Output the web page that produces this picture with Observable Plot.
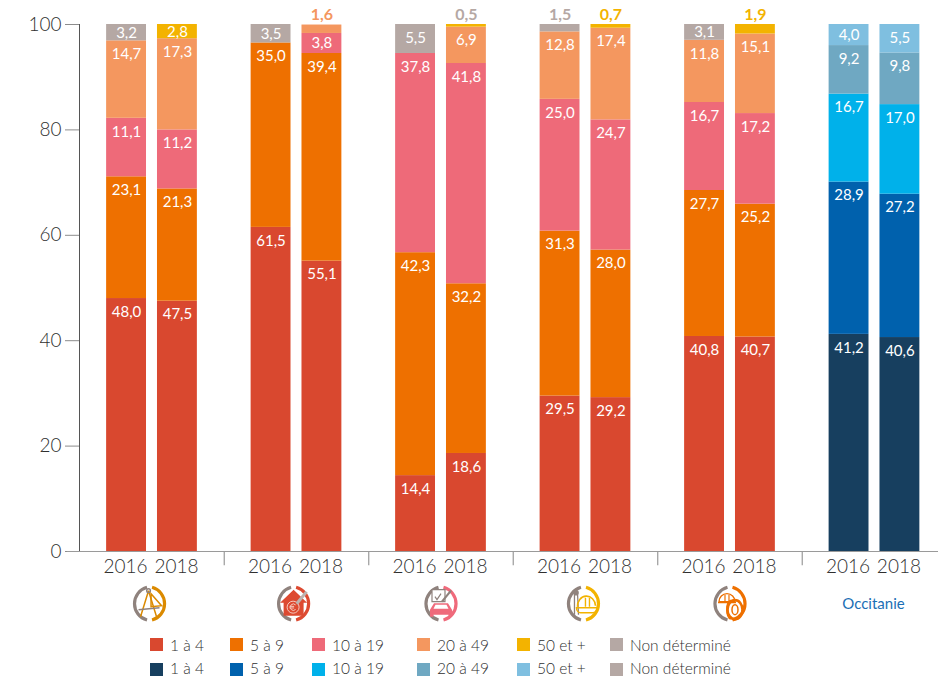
<!DOCTYPE html>
<html lang="fr">
<head>
<meta charset="utf-8">
<script src="https://cdn.jsdelivr.net/npm/d3@7"></script>
<script src="https://cdn.jsdelivr.net/npm/@observablehq/plot@0.6"></script>
<style>
  html,body{margin:0;padding:0;background:#fff;}
  #page{position:relative;width:938px;height:677px;overflow:hidden;font-family:Lato,sans-serif;}
  #chart svg{display:block;}
  .lg{position:absolute;display:flex;align-items:center;height:13px;font-size:15.5px;font-weight:300;color:#2f2f2f;white-space:nowrap;}
  .lg i{display:inline-block;width:13px;height:13px;margin-right:7px;flex:none;}
  .lg span{position:relative;}
  .lg.second span{top:-2px;}
</style>
</head>
<body>
<div id="page"><div id="chart"></div><div id="legend"></div></div>
<script>
// Two bars per group, in reading order: group 1 2016, group 1 2018, group 2 2016 ...
const years = [2016, 2018];
const size1to4   = [48.0, 47.5, 61.5, 55.1, 14.4, 18.6, 29.5, 29.2, 40.8, 40.7, 41.2, 40.6];
const size5to9   = [23.1, 21.3, 35.0, 39.4, 42.3, 32.2, 31.3, 28.0, 27.7, 25.2, 28.9, 27.2];
const size10to19 = [11.1, 11.2, 0, 3.8, 37.8, 41.8, 25.0, 24.7, 16.7, 17.2, 16.7, 17.0];
const size20to49 = [14.7, 17.3, 0, 1.6, 0, 6.9, 12.8, 17.4, 11.8, 15.1, 9.2, 9.8];
const size50plus = [0, 2.8, 0, 0, 0, 0.5, 0, 0.7, 0, 1.9, 4.0, 5.5];
const sizeNd     = [3.2, 0, 3.5, 0, 5.5, 0, 1.5, 0, 3.1, 0, 0, 0];

const seriesValues = [size1to4, size5to9, size10to19, size20to49, size50plus, sizeNd];
const seriesLabels = ["1 à 4", "5 à 9", "10 à 19", "20 à 49", "50 et +", "Non déterminé"];
const sectorColors = ["#D9482F", "#EE7000", "#EE6A79", "#F4975F", "#F3B300", "#B5A8A4"];
const regionColors = ["#173F5F", "#0061AD", "#00B1EA", "#6FA8C2", "#7FBFE0", "#B5A8A4"];
const yTicks = [0, 20, 40, 60, 80, 100];
const regionLabel = "Occitanie";
const greyLabels = ["0,5"]; // printed in grey in the source although the segment is yellow

// layout constants
const barOffset = 0.176, barHalf = 0.138;

const rows = [];
seriesValues[0].forEach((_, b) => {
  const group = Math.floor(b / 2), yearIdx = b % 2;
  const cx = group + (yearIdx ? barOffset : -barOffset);
  let top = 0;
  seriesValues.forEach((vals, s) => {
    const v = vals[b];
    if (!v) return;
    const y1 = top, y2 = top + v;
    top = y2;
    rows.push({
      cx, x1: cx - barHalf, x2: cx + barHalf, y1, y2: Math.min(y2, 100), v,
      color: (group === 5 ? regionColors : sectorColors)[s],
      text: v.toFixed(1).replace(".", ",")
    });
  });
});
const inside = rows.filter(d => d.v >= 2);
const outside = rows.filter(d => d.v < 2);
const yearRows = seriesValues[0].map((_, b) => ({
  cx: Math.floor(b / 2) + (b % 2 ? barOffset : -barOffset),
  label: String(years[b % 2])
}));

function iconUri(color, glyph) {
  const g = "#8f827d";
  const svg = `<svg xmlns="http://www.w3.org/2000/svg" viewBox="0 0 48 48" width="48" height="48">
  <path d="M21.5 7.6A17 17 0 0 0 21.5 40.4" fill="none" stroke="${g}" stroke-width="3.2"/>
  <path d="M26.5 7.6A17 17 0 0 1 26.5 40.4" fill="none" stroke="${color}" stroke-width="3.2"/>
  ${glyph(color, g)}</svg>`;
  return "data:image/svg+xml;charset=utf-8," + encodeURIComponent(svg);
}
const glyphs = [
  (c, g) => `<g fill="none" stroke-width="1.5"><path d="M23 11L15 37M23 11L31 37" stroke="${c}"/><path d="M13 30L34 28" stroke="${g}"/><circle cx="23" cy="11" r="1.8" stroke="${g}"/><path d="M25.5 14L36 26L25.5 27Z" stroke="${c}"/></g>`,
  (c, g) => `<path d="M24 10L10.5 23L14 23L14 36L34 36L34 23L37.5 23Z" fill="${c}"/><circle cx="23.5" cy="27.5" r="6" fill="none" stroke="#f6c9bd" stroke-width="1"/><path d="M26 25.2A3.2 3.2 0 1 0 26 29.8M20 26.7H24.5M20 28.3H24.5" fill="none" stroke="#f6c9bd" stroke-width="1"/><path d="M27 24L37 12" stroke="#bdb3af" stroke-width="3"/>`,
  (c, g) => `<path d="M15 10H28V22H15Z" fill="#fff" stroke="${g}" stroke-width="1.2"/><path d="M18 17L20 20L24 14" fill="none" stroke="${g}" stroke-width="1.2"/><path d="M25 22L34 11" stroke="${g}" stroke-width="2.2"/><path d="M13 30L17 23.5H31L35 30V37H31.5V35H16.5V37H13Z" fill="${c}"/><path d="M18.5 25H29.5L31.5 29H16.5Z" fill="#fff"/>`,
  (c, g) => `<path d="M15 12V35M18 12L19 35" stroke="${g}" stroke-width="1.3"/><circle cx="16.5" cy="13" r="2.8" fill="${g}"/><path d="M20 31A9 10 0 0 1 38 30" fill="none" stroke="${c}" stroke-width="1.6" transform="translate(-2 -4)"/><path d="M17 28H38C38 31 36 33 33 33H21C19 33 17 31 17 28Z" fill="none" stroke="${c}" stroke-width="1.5"/><path d="M26 18V27M30 18V27" stroke="${c}" stroke-width="1.4"/>`,
  (c, g) => `<path d="M13 22A8 8 0 0 1 29 22Z" fill="none" stroke="${c}" stroke-width="1.4"/><path d="M12 23H30M19 15V22M23 15V22" stroke="${c}" stroke-width="1.2"/><ellipse cx="29" cy="30" rx="7.5" ry="9.5" fill="none" stroke="${c}" stroke-width="2.6"/><path d="M25 21C20 23 20 37 25 39" fill="none" stroke="${c}" stroke-width="2.4"/><ellipse cx="29" cy="30" rx="3" ry="5" fill="none" stroke="${c}" stroke-width="1.5"/>`
];
const iconColors = ["#DB8A00", "#DD4A31", "#EF6A7B", "#F3B300", "#EE7000"];
const iconGroupPos = [-0.017, 0.98, 2, 2.986, 4];
const icons = iconColors.map((c, i) => ({pos: iconGroupPos[i], src: iconUri(c, glyphs[i])}));

const fontFamily = "Lato, sans-serif";
const chart = Plot.plot({
  width: 938,
  height: 625,
  marginTop: 24,
  marginBottom: 74,
  marginLeft: 79,
  marginRight: 0,
  style: {fontFamily, background: "#fff"},
  x: {domain: [-0.5017, 5.443], axis: null},
  y: {domain: [0, 100], axis: null},
  marks: [
    Plot.rect(rows, {x1: "x1", x2: "x2", y1: "y1", y2: "y2", fill: d => d.color}),
    Plot.axisY({ticks: yTicks, tickSize: 14, tickPadding: 4, stroke: "#8c8c8c", fill: "#2f2f2f", fontSize: 19, fontWeight: 300, label: null}),
    Plot.ruleX([-0.5017], {y1: 0, y2: 100, stroke: "#555", strokeWidth: 1}),
    Plot.ruleY([0], {x1: -0.585, x2: 5.443, stroke: "#9a9a9a", strokeWidth: 1.2}),
    Plot.ruleX([0.5, 1.5, 2.5, 3.5, 4.5], {y1: 0, y2: -2.7, stroke: "#9a9a9a", strokeWidth: 1.2}),
    Plot.text(inside, {
      x: "cx",
      y: d => d.y2 - Math.min(2.55, d.v / 2),
      text: "text", fill: "#fff", fontSize: 15, fontWeight: 400, lineAnchor: "middle"
    }),
    Plot.text(outside, {
      x: "cx", y: 100, dy: -9.5,
      text: "text", fill: d => greyLabels.includes(d.text) ? sectorColors[5] : d.color,
      fontSize: 16, fontWeight: 700, lineAnchor: "middle"
    }),
    Plot.text(yearRows, {
      x: "cx", y: -3, dx: -1, text: "label", fill: "#2f2f2f", fontSize: 19, fontWeight: 300, lineAnchor: "middle"
    }),
    Plot.image(icons, {x: "pos", y: -9.9, src: d => d.src, width: 48, height: 48}),
    Plot.text([regionLabel], {
      x: 4.993, y: -10, text: d => d, fill: "#1B6FB5", fontSize: 15, fontWeight: 400, lineAnchor: "middle"
    })
  ]
});
document.getElementById("chart").append(chart);

// legend: two rows below the SVG
const legendLeft = [150, 230, 312, 417, 517, 610];
const legend = document.getElementById("legend");
[sectorColors, regionColors].forEach((colors, row) => {
  colors.forEach((c, i) => {
    const el = document.createElement("div");
    el.className = row ? "lg second" : "lg";
    el.style.left = legendLeft[i] + "px";
    el.style.top = (638 + row * 25) + "px";
    const sw = document.createElement("i");
    sw.style.background = c;
    const label = document.createElement("span");
    label.textContent = seriesLabels[i];
    el.append(sw, label);
    legend.append(el);
  });
});
</script>
</body>
</html>
